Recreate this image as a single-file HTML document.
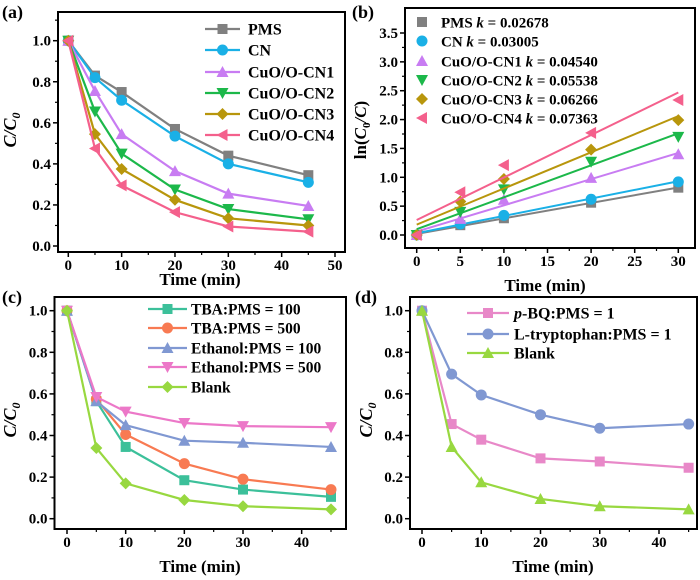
<!DOCTYPE html>
<html><head><meta charset="utf-8">
<style>
body{margin:0;background:#fff;}
svg{display:block;font-family:"Liberation Serif",serif;font-weight:bold;}
</style></head>
<body>
<svg id="fig" width="700" height="580" viewBox="0 0 700 580" xmlns="http://www.w3.org/2000/svg"></svg>
<script>
// ---- data ----
const timesA = [0,5,10,20,30,45];
const namesA = ["PMS","CN","CuO/O-CN1","CuO/O-CN2","CuO/O-CN3","CuO/O-CN4"];
const pmsA = [1,0.83,0.75,0.57,0.44,0.345];
const cnA = [1,0.82,0.71,0.535,0.40,0.31];
const cn1A = [1,0.755,0.545,0.365,0.255,0.195];
const cn2A = [1,0.655,0.45,0.275,0.18,0.13];
const cn3A = [1,0.545,0.375,0.225,0.135,0.10];
const cn4A = [1,0.475,0.295,0.165,0.095,0.07];

const timesB = [0,5,10,20,30];
const kLabels = ["PMS k = 0.02678","CN  k = 0.03005","CuO/O-CN1 k = 0.04540","CuO/O-CN2 k = 0.05538","CuO/O-CN3 k = 0.06266","CuO/O-CN4 k = 0.07363"];
const kValues = [0.02678,0.03005,0.04540,0.05538,0.06266,0.07363];
const interceptsB = [0.02,0.03,0.06,0.10,0.18,0.26];
const pmsB = [0,0.17,0.29,0.56,0.82];
const cnB = [0,0.19,0.34,0.62,0.92];
const cn1B = [0,0.28,0.61,0.99,1.40];
const cn2B = [0,0.40,0.79,1.27,1.70];
const cn3B = [0,0.58,0.97,1.48,1.99];
const cn4B = [0,0.74,1.21,1.77,2.34];

const timesC = [0,5,10,20,30,45];
const namesC = ["TBA:PMS = 100","TBA:PMS = 500","Ethanol:PMS = 100","Ethanol:PMS = 500","Blank"];
const tba100 = [1,0.565,0.345,0.185,0.14,0.105];
const tba500 = [1,0.575,0.405,0.265,0.19,0.14];
const eth100 = [1,0.565,0.45,0.375,0.365,0.345];
const eth500 = [1,0.585,0.515,0.46,0.445,0.44];
const blankC = [1,0.34,0.17,0.09,0.06,0.045];

const timesD = [0,5,10,20,30,45];
const namesD = ["p-BQ:PMS = 1","L-tryptophan:PMS = 1","Blank"];
const pbq = [1,0.455,0.38,0.29,0.275,0.245];
const ltrp = [1,0.695,0.595,0.50,0.435,0.455];
const blankD = [1,0.345,0.175,0.095,0.06,0.045];

// ---- drawing ----
const NS="http://www.w3.org/2000/svg";
const svg=document.getElementById('fig');
function el(tag,attrs,parent,text){const e=document.createElementNS(NS,tag);for(const k in attrs)e.setAttribute(k,attrs[k]);if(text!==undefined)e.textContent=text;(parent||svg).appendChild(e);return e;}

function makeScale(d0,d1,r0,r1){return v=>r0+(v-d0)*(r1-r0)/(d1-d0);}

function marker(g,type,x,y,c,s){
  s=s||5;let m;
  if(type==='sq')m=el('rect',{x:x-s,y:y-s,width:2*s,height:2*s,fill:c},g);
  else if(type==='ci')m=el('circle',{cx:x,cy:y,r:s+0.5,fill:c},g);
  else if(type==='tu')m=el('polygon',{points:`${x},${y-s-1} ${x-s-1},${y+s} ${x+s+1},${y+s}`,fill:c},g);
  else if(type==='td')m=el('polygon',{points:`${x},${y+s+1} ${x-s-1},${y-s} ${x+s+1},${y-s}`,fill:c},g);
  else if(type==='di')m=el('polygon',{points:`${x},${y-s-1} ${x+s+1},${y} ${x},${y+s+1} ${x-s-1},${y}`,fill:c},g);
  else if(type==='tl')m=el('polygon',{points:`${x-s-1},${y} ${x+s},${y-s-1} ${x+s},${y+s+1}`,fill:c},g);
  
  
  return m;
}

function axes(p){
  const g=el('g',{},svg);
  
  
  el('rect',{x:p.L,y:p.T,width:p.R-p.L,height:p.B-p.T,fill:'none',stroke:'#000','stroke-width':2},g);
  p.xt.forEach(v=>{const x=p.sx(v);el('line',{x1:x,y1:p.B,x2:x,y2:p.B+5,stroke:'#000','stroke-width':1.5},g);
    const t=el('text',{x:x,y:p.B+18,'text-anchor':'middle','font-size':15},g,String(v));
    });
  p.xm.forEach(v=>{const x=p.sx(v);el('line',{x1:x,y1:p.B,x2:x,y2:p.B+3,stroke:'#000','stroke-width':1.2},g);});
  p.yt.forEach(v=>{const y=p.sy(v);el('line',{x1:p.L-5,y1:y,x2:p.L,y2:y,stroke:'#000','stroke-width':1.5},g);
    const t=el('text',{x:p.L-7,y:y+5,'text-anchor':'end','font-size':15},g,v.toFixed(1));
    });
  p.ym.forEach(v=>{const y=p.sy(v);el('line',{x1:p.L-3,y1:y,x2:p.L,y2:y,stroke:'#000','stroke-width':1.2},g);});
  const xt=el('text',{x:p.xtX,y:p.xtY,'text-anchor':'middle','font-size':17},g,'Time (min)');
  
  const pl=el('text',{x:p.plX,y:p.plY,'font-size':18},g,p.letter);
  
}

function yTitleC(x,y){
  const t=el('text',{x:0,y:0,'text-anchor':'middle','font-size':18,transform:`translate(${x},${y}) rotate(-90)`});
  
  el('tspan',{'font-style':'italic'},t,'C/C');
  el('tspan',{'font-style':'italic','font-size':12,dy:4},t,'0');
}

function series(p,xs,ys,c,mk,name){
  const g=el('g',{},svg);
  
  
  const pts=xs.map((x,i)=>p.sx(x)+','+p.sy(ys[i])).join(' ');
  if(!p.noLine)el('polyline',{points:pts,fill:'none',stroke:c,'stroke-width':2.2},g);
  xs.forEach((x,i)=>marker(g,mk,p.sx(x),p.sy(ys[i]),c));
}

function legend(items,x0,x1,tx,ys,fs,noLine){
  items.forEach((it,i)=>{
    const g=el('g',{},svg);
    
    
    const y=ys[i];
    if(!noLine)el('line',{x1:x0,y1:y,x2:x1,y2:y,stroke:it.c,'stroke-width':2.2},g);
    marker(g,it.m,(x0+x1)/2,y,it.c);
    const t=el('text',{x:tx,y:y+5.5,'font-size':fs},g);
    if(it.label.startsWith('p-')){el('tspan',{'font-style':'italic'},t,'p');el('tspan',{},t,it.label.slice(1));}
    else if(it.label.includes(' k = ')){const parts=it.label.split('k = ');el('tspan',{},t,parts[0]);el('tspan',{'font-style':'italic'},t,'k');el('tspan',{},t,' = '+parts[1]);}
    else t.textContent=it.label;
  });
}

const colsA=['#808080','#1ab0e6','#c87cf2','#1cb84a','#b8960c','#f4608c'];
const mksA=['sq','ci','tu','td','di','tl'];

// Panel A
const A={name:'panel-a',L:58,R:345,T:12,B:252,letter:'(a)',plX:2,plY:18,xtX:200,xtY:285};
A.sx=makeScale(0,50,68.3,335);A.sy=makeScale(0,1,246,40.7);
A.xt=[0,10,20,30,40,50];A.xm=[5,15,25,35,45];A.yt=[0,0.2,0.4,0.6,0.8,1.0];A.ym=[0.1,0.3,0.5,0.7,0.9,1.1];
axes(A);yTitleC(16,130);
[pmsA,cnA,cn1A,cn2A,cn3A,cn4A].forEach((d,i)=>series(A,timesA,d,colsA[i],mksA[i],'series-'+namesA[i].toLowerCase().replace(/[^a-z0-9]+/g,'-')));
legend(namesA.map((n,i)=>({label:n,c:colsA[i],m:mksA[i]})),205,240,248,[29,50,72,93,114,135],16);

// Panel B
const Bp={name:'panel-b',L:405,R:695,T:8,B:248,letter:'(b)',plX:352,plY:18,xtX:545,xtY:291,noLine:true};
Bp.sx=makeScale(0,30,416.7,678.3);Bp.sy=makeScale(0,3.5,235,33);
Bp.xt=[0,5,10,15,20,25,30];Bp.xm=[2.5,7.5,12.5,17.5,22.5,27.5];Bp.yt=[0,0.5,1,1.5,2,2.5,3,3.5];Bp.ym=[0.25,0.75,1.25,1.75,2.25,2.75,3.25];
axes(Bp);
(function(){const t=el('text',{x:0,y:0,'text-anchor':'middle','font-size':17,transform:'translate(366,130) rotate(-90)'});

el('tspan',{},t,'ln(');el('tspan',{'font-style':'italic'},t,'C');el('tspan',{'font-size':11,dy:4},t,'0');el('tspan',{dy:-4,'font-style':'italic'},t,'/C');el('tspan',{},t,')');})();
[pmsB,cnB,cn1B,cn2B,cn3B,cn4B].forEach((d,i)=>{
  const fit=el('line',{x1:Bp.sx(0),y1:Bp.sy(interceptsB[i]),x2:Bp.sx(30),y2:Bp.sy(interceptsB[i]+kValues[i]*30),stroke:colsA[i],'stroke-width':2});
  
  series(Bp,timesB,d,colsA[i],mksA[i],'series-b-'+i);
});
legend(kLabels.map((n,i)=>({label:n,c:colsA[i],m:mksA[i]})),415,429,441,[22,41,61,80,99,118],15,true);

// Panel C
const colsC=['#3cc09a','#f87a52','#8098d2','#ec78c8','#98d840'];
const mksC=['sq','ci','tu','td','di'];
const C={name:'panel-c',L:54.5,R:346,T:297,B:529,letter:'(c)',plX:2,plY:303,xtX:200,xtY:572};
C.sx=makeScale(0,45,67,331);C.sy=makeScale(0,1,518.7,310.7);
C.xt=[0,10,20,30,40];C.xm=[5,15,25,35,45];C.yt=[0,0.2,0.4,0.6,0.8,1.0];C.ym=[0.1,0.3,0.5,0.7,0.9];
axes(C);yTitleC(16,420);
[tba100,tba500,eth100,eth500,blankC].forEach((d,i)=>series(C,timesC,d,colsC[i],mksC[i],'series-c-'+i));
legend(namesC.map((n,i)=>({label:n,c:colsC[i],m:mksC[i]})),148,187,191,[309,328,348,367,387],15.5);

// Panel D
const colsD=['#e888c8','#8098d2','#98d840'];
const mksD=['sq','ci','tu'];
const D={name:'panel-d',L:410,R:697,T:297,B:529,letter:'(d)',plX:355,plY:303,xtX:553,xtY:572};
D.sx=makeScale(0,40,422,659);D.sy=makeScale(0,1,518.7,310.7);
D.xt=[0,10,20,30,40];D.xm=[5,15,25,35,45];D.yt=[0,0.2,0.4,0.6,0.8,1.0];D.ym=[0.1,0.3,0.5,0.7,0.9];
axes(D);yTitleC(372,420);
[pbq,ltrp,blankD].forEach((d,i)=>series(D,timesD,d,colsD[i],mksD[i],'series-d-'+i));
legend(namesD.map((n,i)=>({label:n,c:colsD[i],m:mksD[i]})),467,509,514,[313,334,353],16);
</script>
</body></html>
